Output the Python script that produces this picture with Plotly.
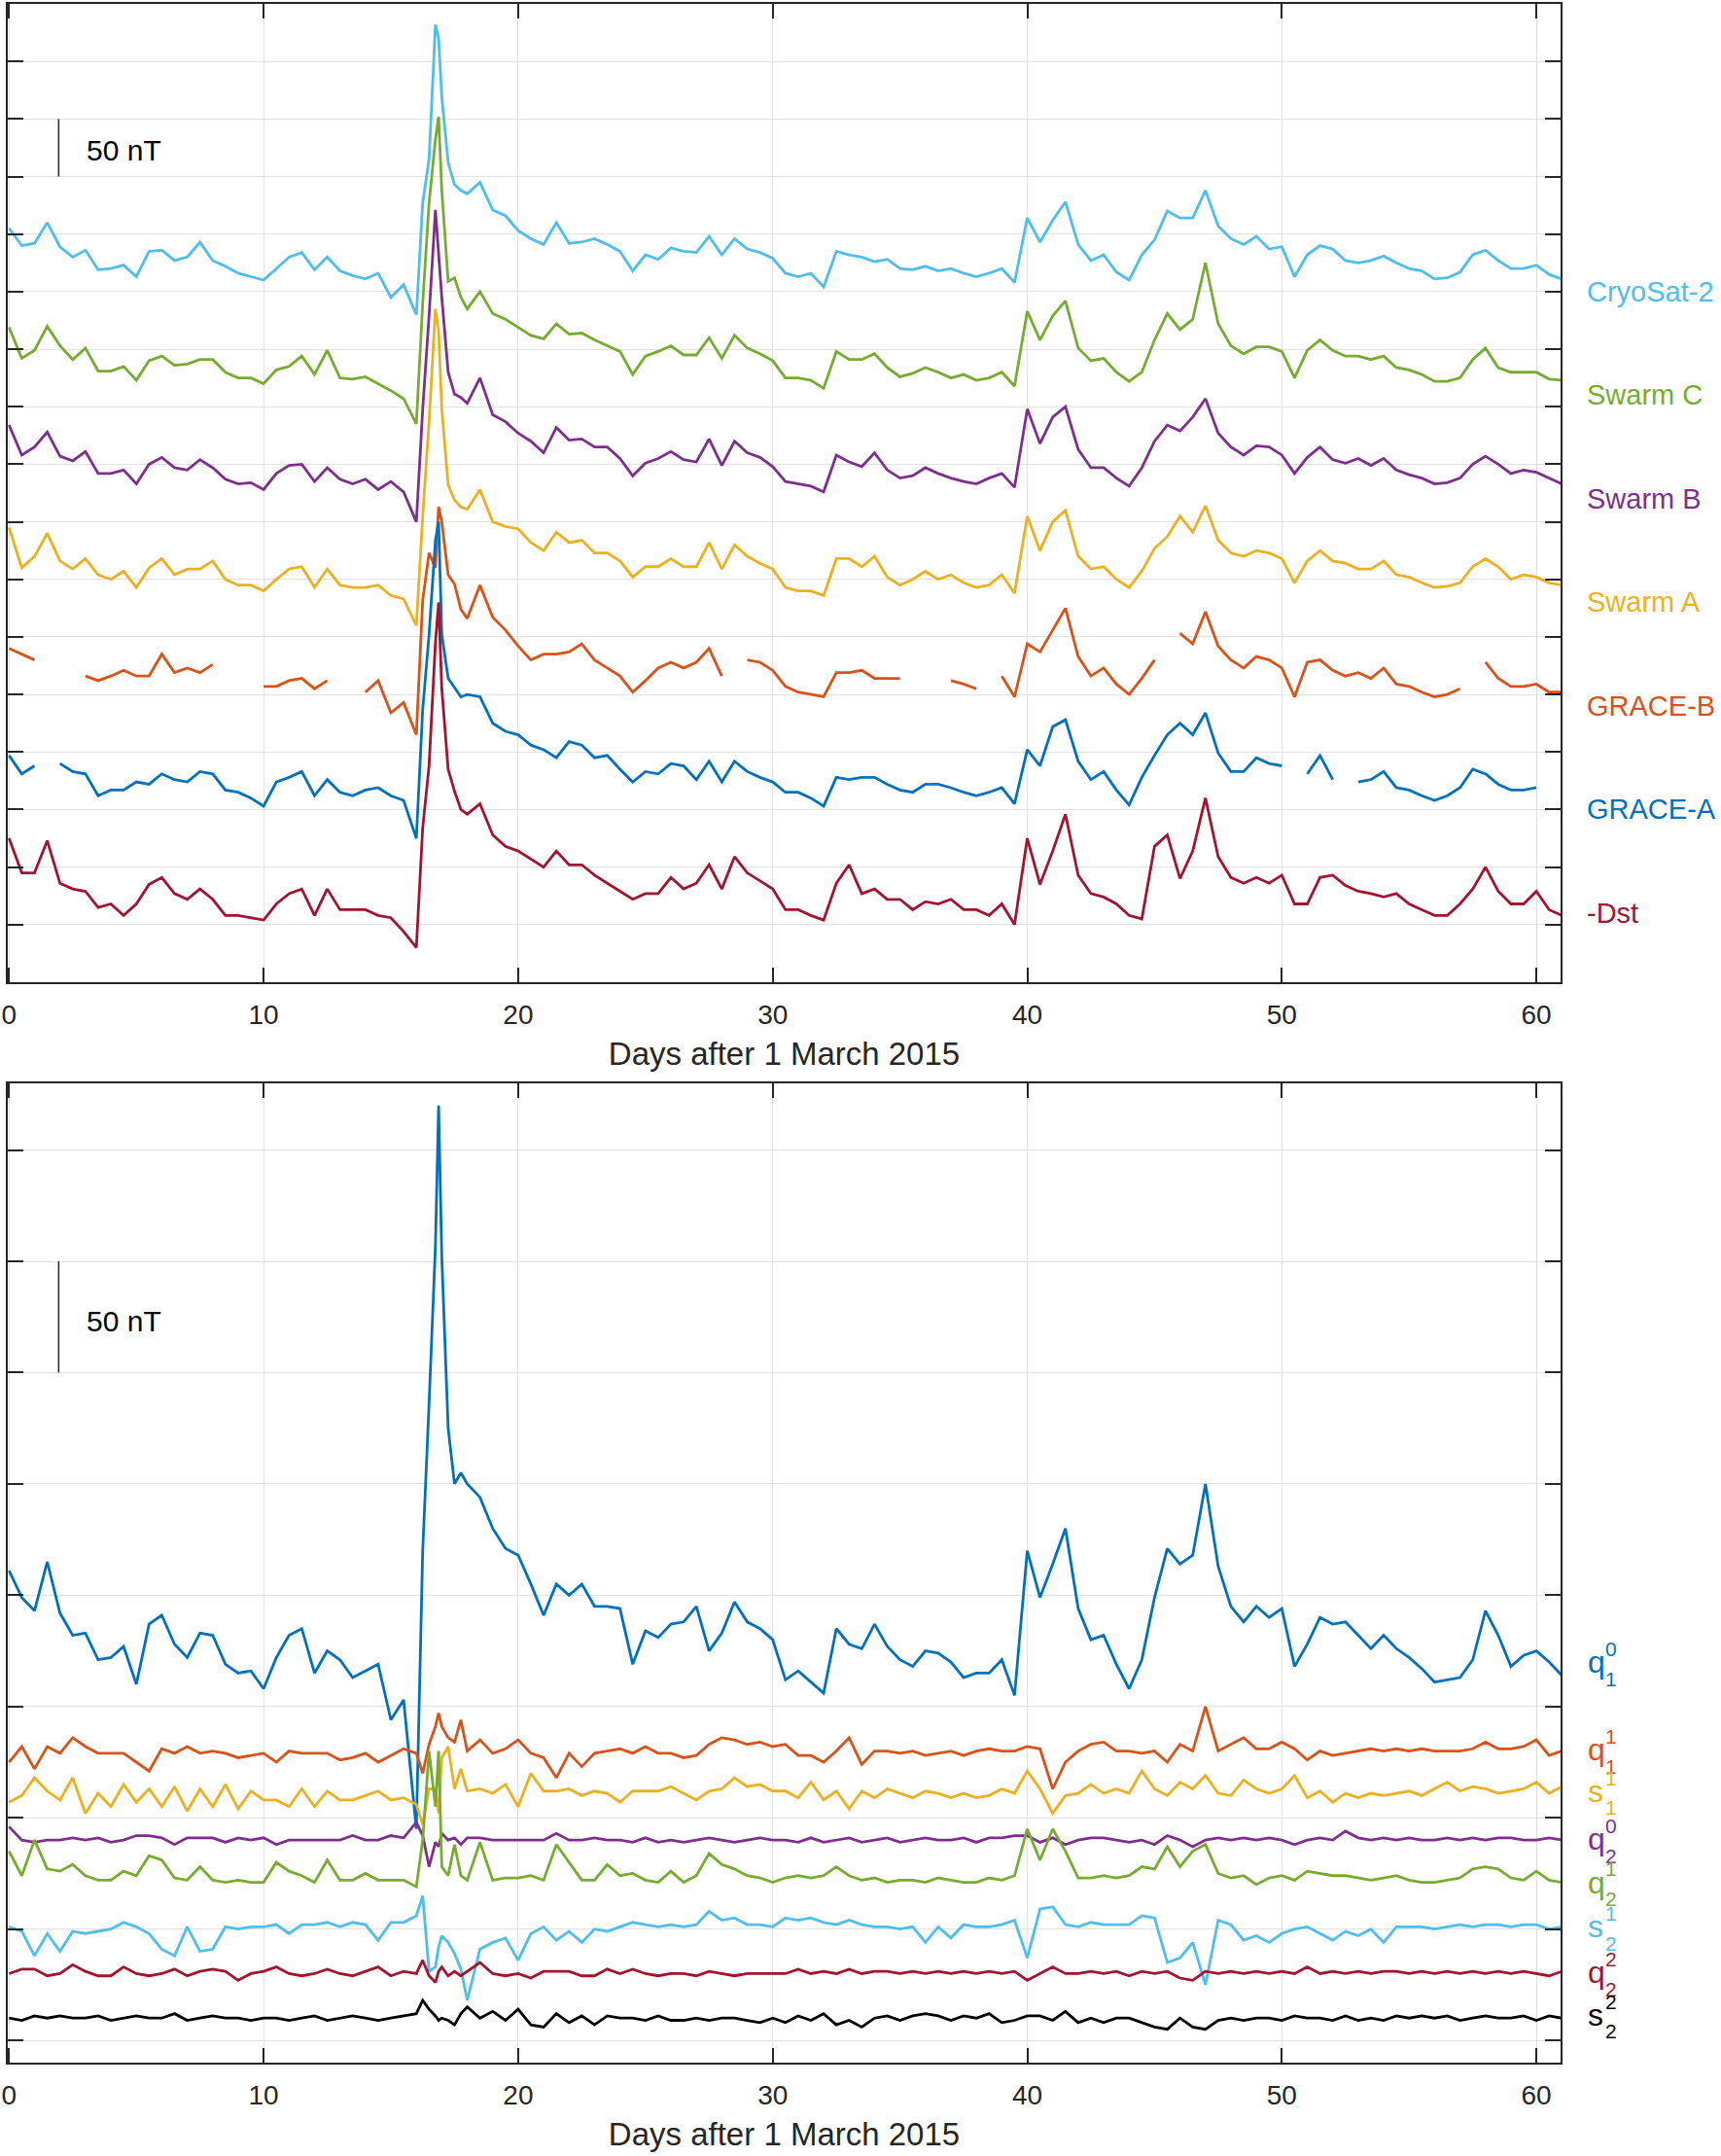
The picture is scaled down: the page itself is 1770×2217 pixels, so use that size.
import plotly.graph_objects as go

N = None
# time grid (days after 1 March 2015): half-day steps, finer around the 17 March storm
days = [i * 0.5 for i in range(32)] + [16.0, 16.25, 16.5, 16.75, 16.875, 17.0, 17.25, 17.5, 17.75, 18.0] + [18.5 + i * 0.5 for i in range(86)]

# ---------------- top panel series (nT, relative to own baseline) ----------------
cryosat2 = [55, 40, 42, 60, 39, 30, 36, 19, 20, 23, 13, 35, 36, 27, 30, 43, 27, 22, 16, 13, 10, 20, 30, 34, 19, 30, 18, 14, 11, 16, -5, 6,
            -20, 77, 115, 232, 220, 169, 112, 93, 88, 85,
            95, 71, 66, 53, 46, 41, 60, 42, 43, 46, 41, 35, 18, 32, 28, 38, 35, 34, 48, 32, 46, 37, 34, 29,
            16, 13, 16, 4, 35, 32, 30, 26, 28, 20, 19, 22, 18, 20, 16, 13, 16, 20, 8,
            64, 43, 62, 78, 41, 27, 32, 17, 10, 32, 45, 70, 64, 64, 88, 57, 46, 41, 48, 37,
            39, 13, 32, 40, 37, 27, 25, 27, 31, 25, 20, 18, 11, 12, 17, 32, 36, 27, 20, 20, 23, 15, 11]
swarm_c = [59, 32, 39, 60, 43, 31, 41, 21, 21, 25, 13, 30, 34, 26, 27, 31, 31, 20, 15, 15, 10, 22, 25, 34, 18, 39, 15, 14, 16, 10, 4, -3,
           -25, 80, 167, 222, 242, 178, 99, 102, 85, 75,
           90, 71, 66, 59, 52, 49, 62, 53, 54, 48, 43, 38, 18, 34, 38, 43, 35, 35, 50, 32, 52, 41, 36, 30,
           15, 15, 13, 6, 38, 31, 31, 36, 24, 16, 19, 24, 20, 15, 18, 13, 15, 20, 8,
           73, 48, 69, 82, 41, 30, 32, 20, 12, 20, 48, 71, 57, 66, 115, 62, 43, 36, 42, 42,
           38, 15, 39, 48, 39, 34, 34, 31, 34, 24, 22, 18, 12, 12, 15, 31, 41, 24, 20, 20, 20, 14, 13]
swarm_b = [64, 38, 45, 58, 37, 33, 41, 22, 22, 25, 13, 30, 36, 27, 25, 34, 27, 17, 13, 14, 8, 22, 29, 30, 15, 27, 17, 13, 17, 8, 15, 6,
           -20, 78, 159, 251, 213, 175, 110, 91, 88, 83,
           105, 73, 67, 57, 50, 40, 62, 51, 52, 45, 45, 35, 20, 31, 35, 41, 34, 32, 52, 29, 50, 40, 36, 28,
           15, 13, 11, 6, 38, 32, 28, 40, 25, 18, 20, 27, 22, 18, 15, 13, 18, 22, 10,
           78, 48, 71, 80, 43, 27, 27, 18, 11, 27, 50, 64, 59, 71, 87, 57, 45, 38, 46, 45,
           38, 22, 36, 45, 34, 31, 35, 29, 35, 25, 21, 18, 13, 14, 18, 30, 37, 30, 22, 25, 23, 18, 13]
swarm_a = [65, 30, 40, 60, 36, 29, 38, 24, 20, 27, 13, 30, 38, 24, 29, 29, 36, 20, 15, 15, 10, 20, 29, 31, 13, 29, 15, 13, 13, 15, 6, 3,
           -20, 75, 157, 255, 236, 168, 102, 89, 83, 81,
           98, 70, 66, 64, 52, 45, 61, 52, 54, 43, 43, 36, 22, 31, 31, 38, 31, 31, 52, 29, 50, 40, 34, 29,
           13, 10, 10, 6, 38, 38, 31, 40, 22, 15, 20, 27, 20, 24, 17, 13, 15, 24, 8,
           75, 45, 70, 80, 40, 29, 31, 20, 13, 27, 47, 57, 75, 61, 84, 54, 43, 40, 45, 43,
           38, 17, 36, 45, 36, 34, 29, 29, 36, 24, 22, 17, 13, 14, 17, 31, 38, 31, 20, 24, 22, 17, 15]
grace_b = [50, 45, 40, N, N, N, 26, 22, 26, 31, 26, 26, 45, 29, 33, 29, 36, N, N, N, 17, 17, 22, 24, 15, 22, N, N, 12, 22, -6, 3,
           -25, 92, 133, 120, 173, 160, 114, 106, 84, 76,
           105, 77, 66, 52, 40, 45, 45, 47, 54, 40, 33, 26, 12, 22, 33, 38, 33, 38, 50, 26, N, 40, 38, 31,
           17, 12, 10, 8, 29, 29, 31, 24, 24, 24, N, N, N, 22, 19, 15, N, 26, 8,
           54, 47, 66, 85, 43, 26, 33, 19, 10, 24, 40, N, 63, 54, 82, 52, 40, 33, 43, 40,
           33, 8, 38, 40, 31, 26, 29, 24, 33, 19, 17, 12, 8, 10, 15, N, 38, 24, 17, 17, 19, 12, 12]
grace_a = [47, 31, 38, N, 40, 33, 31, 12, 17, 17, 24, 22, 31, 26, 24, 33, 31, 17, 15, 10, 3, 24, 28, 33, 12, 26, 15, 12, 17, 19, 12, 8,
           -25, 87, 152, 234, 250, 152, 114, 106, 98, 100,
           98, 75, 68, 65, 56, 52, 45, 59, 56, 45, 47, 35, 24, 33, 31, 40, 38, 26, 42, 24, 42, 33, 28, 24,
           15, 15, 10, 3, 28, 26, 28, 28, 22, 17, 15, 22, 22, 19, 15, 12, 15, 19, 5,
           52, 38, 72, 78, 42, 26, 33, 17, 4, 28, 47, 65, 75, 65, 84, 49, 33, 33, 45, 40,
           38, N, 31, 47, 26, N, 24, 26, 33, 19, 17, 12, 8, 12, 19, 35, 31, 22, 17, 17, 19, N, N]
minus_dst = [65, 35, 35, 63, 26, 21, 19, 5, 8, -2, 8, 25, 31, 17, 12, 21, 12, -2, -2, -4, -6, 8, 17, 21, -2, 21, 3, 3, 3, -2, -4, -16,
             -30, 74, 128, 235, 270, 195, 125, 106, 90, 86,
             95, 68, 58, 54, 47, 40, 54, 42, 42, 33, 26, 19, 12, 17, 17, 31, 21, 26, 42, 21, 49, 35, 28, 21,
             3, 3, -2, -6, 26, 42, 17, 21, 12, 12, 3, 10, 8, 12, 3, 3, -2, 8, -10,
             65, 25, 54, 86, 33, 17, 14, 8, -2, -5, 58, 68, 30, 54, 100, 49, 31, 26, 31, 26,
             33, 8, 8, 31, 33, 24, 19, 17, 14, 17, 8, 3, -2, -2, 8, 21, 40, 19, 8, 8, 19, 3, -2]

# ---------------- bottom panel series (nT, relative to own baseline) ----------------
q10 = [46, 34, 28, 50, 27, 17, 18, 6, 7, 12, -5, 22, 26, 13, 7, 18, 17, 4, 0, 1, -7, 7, 17, 20, 0, 10, 6, -2, 1, 4, -21, -12,
       -70, 55, 121, 192, 255, 187, 110, 85, 90, 85,
       79, 65, 56, 53, 40, 26, 40, 35, 40, 30, 30, 29, 4, 19, 16, 22, 23, 30, 10, 18, 32, 23, 20, 15,
       -3, 1, -4, -9, 20, 13, 11, 22, 12, 6, 3, 10, 9, 5, -2, 0, 0, 6, -10,
       55, 34, 49, 65, 29, 15, 17, 4, -7, 6, 34, 56, 49, 53, 85, 48, 30, 23, 30, 25,
       29, 3, 13, 25, 22, 23, 17, 11, 17, 11, 7, 2, -4, -3, -2, 6, 28, 17, 3, 8, 10, 5, -1]
q11 = [-5, 2, -8, 2, -1, 6, 2, -1, -1, -1, -5, -9, 1, -1, 2, -1, 0, -1, -3, -2, -1, -5, 0, -1, -1, -1, -4, -3, -1, -5, -2, 1,
       -1, -10, 3, 11, 17, 11, 6, 4, 14, 0,
       5, -1, 1, 5, -1, -3, -12, -1, -7, -1, 0, 1, -1, 2, -1, -1, -3, -2, 3, 6, 5, 3, 4, 2,
       3, -2, -2, -5, 0, 6, -6, 0, 0, -1, 0, -2, -1, 0, -2, 0, 1, 0, 0,
       2, 1, -17, -5, 0, 3, 4, 0, 0, -1, 0, -5, 3, 0, 20, 0, 3, 6, 1, 1,
       4, 1, -4, 0, -2, -1, 0, 1, 0, 1, 0, 1, 0, 0, 0, 1, 4, 1, 1, 2, 5, -2, 0]
s11 = [-8, -5, 3, -3, -7, 3, -13, -4, -10, 0, -8, -2, -10, -1, -12, -2, -10, 0, -11, -3, -7, -7, -10, -2, -10, -3, -7, -7, -5, -3, -7, -6,
       -9, -18, -2, -2, -13, 12, 17, -2, 7, -3,
       -2, -4, 0, -10, 5, -3, -3, -2, -5, -3, -4, -8, -3, -3, -3, -1, -4, -7, -3, -2, 3, -1, 0, -3,
       -3, -6, 1, -7, -3, -11, -3, -6, -2, -4, -6, -3, -4, -6, -4, -6, -5, -2, -4,
       6, -2, -13, -5, -4, 0, -4, -2, -4, 6, -2, -5, 1, -2, 4, -4, -5, 2, -2, -4,
       -2, 4, -6, -3, -8, -4, -6, -4, -5, -4, -3, -5, -2, 1, -3, -1, -2, -4, -3, -2, 1, -4, -1]
q20 = [6, 0, -1, 0, 0, 1, 0, 1, -1, 0, 2, 2, 1, -2, 1, 1, 1, -1, 1, 0, 1, -2, 0, 0, 0, 0, 0, 2, 0, 0, 2, 1,
       8, 2, -12, -1, -3, 3, 0, 1, -2, 1,
       1, 0, 0, 0, 0, 0, 3, 0, 0, 1, 0, 0, -1, 1, -1, 0, -1, 0, 1, 0, -1, 0, 1, 0,
       0, -1, 1, -1, 0, 1, -1, 0, 1, -1, 0, 1, 0, 0, 1, -1, 1, 1, 2,
       2, -1, 1, -2, 0, 1, 1, 0, -1, 0, -2, 2, 0, -3, 0, 1, 0, 1, 0, 1,
       0, -2, 0, 1, 0, 4, 1, 0, 1, 0, 1, 0, 0, 1, 0, 1, 0, 1, 1, 0, 0, 1, 0]
q21 = [15, 4, 20, 7, 6, 9, 4, 2, 2, 6, 4, 13, 11, 3, 2, 8, 2, 1, 2, 1, 1, 10, 6, 4, 1, 11, 2, 2, 5, 2, 2, 2,
       -1, 20, 60, 35, 60, 8, 4, 18, 4, 2,
       19, 2, 3, 3, 4, 2, 18, 10, 2, 2, 9, 4, 5, 2, 1, 6, 1, 4, 14, 9, 7, 4, 3, 1,
       3, 4, 3, 4, 8, 4, 2, 3, 1, 2, 2, 1, 3, 2, 1, 1, 3, 2, 4,
       25, 11, 25, 15, 3, 3, 4, 3, 4, 8, 7, 17, 8, 15, 18, 5, 3, 4, 0, 3,
       4, 2, 6, 5, 4, 4, 3, 2, 3, 4, 2, 1, 1, 2, 3, 7, 8, 7, 3, 2, 6, 2, 1]
s21 = [1, -1, -12, -2, -10, -1, -2, -1, 0, 3, 1, -2, -9, -12, 1, -10, -9, 1, 0, 1, 1, 2, -2, 2, 2, 3, 1, 3, 2, -5, 3, 3,
       6, 15, -19, -17, -8, -3, -6, -11, -18, -32,
       -9, -6, -4, -14, -2, 1, -5, -1, -6, 0, -1, 1, 3, 2, 1, 2, 1, 2, 8, 4, 5, 2, 2, 1,
       5, 4, 5, 3, 2, 4, 2, 1, 1, 0, 1, -6, 1, -4, 2, 1, 1, 2, 4,
       -13, 9, 10, 2, 1, 3, 2, 2, 2, 6, 5, -15, -13, -6, -25, 4, 2, -5, -3, -6,
       -2, 0, 1, -2, -5, -1, -3, 0, -6, 1, 1, 1, 0, 1, 2, 1, 2, 2, 1, 2, 2, 0, 1]
q22 = [0, 2, 2, -1, 0, 4, 1, -1, -1, 3, 0, -1, 0, 2, -1, 1, 2, 1, -3, 0, 1, 3, 0, -1, 0, 2, 0, -1, 1, 3, -1, 1,
       0, 6, -1, -4, 1, 3, -1, 1, -1, 1,
       5, 0, -1, 0, -2, 1, 1, 1, -1, -1, 2, 0, 2, 0, -1, 0, 0, -1, 1, 0, -1, 0, 0, 0,
       0, 2, 0, 1, 0, 2, 0, 1, 1, 0, 1, 0, 1, 0, 1, 0, 1, 0, 1,
       -3, 0, 3, 0, 0, 1, 0, 1, -1, 1, 0, 1, -2, -3, 1, 0, 1, 0, 1, 0,
       1, 0, 3, 0, 1, 0, 1, 0, 1, 1, 0, 1, 0, 1, 0, 1, 0, 1, 0, 1, 0, -1, 1]
s22 = [0, -1, 1, 0, 1, 0, 0, 1, -1, 0, 1, 0, 0, 2, -1, 0, 1, 0, 0, -1, 0, 0, -1, 0, 1, -1, 0, 1, 0, -1, 0, 1,
       2, 8, 4, 1, -1, 0, -1, -3, 2, 5,
       0, 3, -1, 4, -3, -4, 2, -2, 1, -3, 1, 0, 0, -1, 1, -1, -1, 0, -1, 0, 0, -1, -2, 0,
       -2, 1, -1, 2, -3, -1, -4, 0, 1, -1, 1, 2, 1, -1, 1, 0, 2, -2, -1,
       1, 1, -1, 3, -2, 0, -2, 0, 0, -2, -4, -5, 0, -4, -5, -1, 0, -1, 0, 0,
       -1, 1, 0, 0, -1, 1, -1, 0, -1, 1, 0, 1, 0, 1, -1, 0, 1, 0, 0, 1, -1, 1, 0]

top_names = ["CryoSat-2", "Swarm C", "Swarm B", "Swarm A", "GRACE-B", "GRACE-A", "-Dst"]
top_series = [cryosat2, swarm_c, swarm_b, swarm_a, grace_b, grace_a, minus_dst]
bot_letters = ["q", "q", "s", "q", "q", "s", "q", "s"]
bot_sub = ["1", "1", "1", "2", "2", "2", "2", "2"]
bot_sup = ["0", "1", "1", "0", "1", "1", "2", "2"]
bot_series = [q10, q11, s11, q20, q21, s21, q22, s22]

# ---------------- styling / layout constants ----------------
top_colors = ["#4DBEEE", "#77AC30", "#7E2F8E", "#EDB120", "#D95319", "#0072BD", "#A2142F"]
top_offsets = [600, 510, 420, 330, 240, 150, 60]
bot_colors = ["#0072BD", "#D95319", "#EDB120", "#7E2F8E", "#77AC30", "#4DBEEE", "#A2142F", "#000000"]
bot_offsets = [165, 130, 115, 90, 70, 50, 30, 10]
bot_label_y = [168.5, 129, 110.5, 89, 69.5, 49.5, 29, 10]

for s in top_series + bot_series:
    assert len(s) == len(days), len(s)

FONT = "Liberation Sans, Arial, Helvetica, sans-serif"
AX = "#262626"
fig = go.Figure()


def shifted(vals, off):
    return [None if v is None else v + off for v in vals]


for name, vals, col, off in zip(top_names, top_series, top_colors, top_offsets):
    fig.add_trace(go.Scatter(x=days, y=shifted(vals, off), mode="lines", name=name,
                             line=dict(color=col, width=2.8), xaxis="x", yaxis="y",
                             connectgaps=False, hoverinfo="skip"))
for i, (vals, col, off) in enumerate(zip(bot_series, bot_colors, bot_offsets)):
    fig.add_trace(go.Scatter(x=days, y=shifted(vals, off), mode="lines",
                             name=bot_letters[i] + bot_sub[i] + bot_sup[i],
                             line=dict(color=col, width=2.8), xaxis="x2", yaxis="y2",
                             hoverinfo="skip"))

common_x = dict(range=[-0.05, 60.95], tickvals=[0, 10, 20, 30, 40, 50, 60], ticks="inside",
                ticklen=15, tickwidth=1.5, tickcolor=AX, showline=True, linecolor=AX, linewidth=1.5,
                mirror="ticks", showgrid=True, gridcolor="#e2e2e2", gridwidth=1, zeroline=False,
                tickfont=dict(family=FONT, size=28, color=AX), ticklabelstandoff=8,
                title=dict(text="Days after 1 March 2015", font=dict(family=FONT, size=33, color=AX), standoff=14))
common_y = dict(ticks="inside", ticklen=16, tickwidth=1.5, tickcolor=AX, showline=True, linecolor=AX,
                linewidth=1.5, mirror="ticks", showgrid=True, gridcolor="#e2e2e2", gridwidth=1,
                zeroline=False, showticklabels=False, tick0=0, dtick=50)

fig.update_layout(
    width=1770, height=2217,
    margin=dict(l=8, r=165, t=2, b=96),
    paper_bgcolor="white", plot_bgcolor="white", showlegend=False,
    xaxis=dict(common_x, anchor="y", domain=[0, 1]),
    yaxis=dict(common_y, range=[0, 850], domain=[0.5248, 1.0]),
    xaxis2=dict(common_x, anchor="y2", domain=[0, 1]),
    yaxis2=dict(common_y, range=[-10, 430], domain=[0.0, 0.4757]),
)

# right-hand labels, positioned in paper x (plot area spans 8..1605 px)
LAB_X = (1630 - 8) / 1597
LET_X = (1631 - 8) / 1597
SCR_X = (1649 - 8) / 1597
ann = []
for name, col, off in zip(top_names, top_colors, top_offsets):
    ann.append(dict(x=LAB_X, y=off, xref="paper", yref="y", text=name, showarrow=False, xanchor="left",
                    yanchor="middle", font=dict(family=FONT, size=29, color=col)))
for i, col in enumerate(bot_colors):
    yl = bot_label_y[i]
    ann.append(dict(x=LET_X, y=yl + 1.5, xref="paper", yref="y2", text=bot_letters[i], showarrow=False,
                    xanchor="left", yanchor="middle", font=dict(family=FONT, size=32, color=col)))
    ann.append(dict(x=SCR_X, y=yl + 7.5, xref="paper", yref="y2", text=bot_sup[i], showarrow=False,
                    xanchor="left", yanchor="middle", font=dict(family=FONT, size=21, color=col)))
    ann.append(dict(x=SCR_X, y=yl - 6.0, xref="paper", yref="y2", text=bot_sub[i], showarrow=False,
                    xanchor="left", yanchor="middle", font=dict(family=FONT, size=21, color=col)))
# 50 nT scale bars
ann.append(dict(x=2.97, y=723, xref="x", yref="y", text="50 nT", showarrow=False, xanchor="left",
                yanchor="middle", font=dict(family=FONT, size=30, color="black")))
ann.append(dict(x=2.97, y=323, xref="x2", yref="y2", text="50 nT", showarrow=False, xanchor="left",
                yanchor="middle", font=dict(family=FONT, size=30, color="black")))
fig.update_layout(annotations=ann)
fig.add_shape(type="line", x0=1.95, x1=1.95, y0=700, y1=750, xref="x", yref="y", line=dict(color=AX, width=1.5))
fig.add_shape(type="line", x0=1.95, x1=1.95, y0=300, y1=350, xref="x2", yref="y2", line=dict(color=AX, width=1.5))

fig.write_html("out.html", config={"displayModeBar": False},
               post_script="document.body.style.margin='0px';document.body.style.overflow='hidden';")
